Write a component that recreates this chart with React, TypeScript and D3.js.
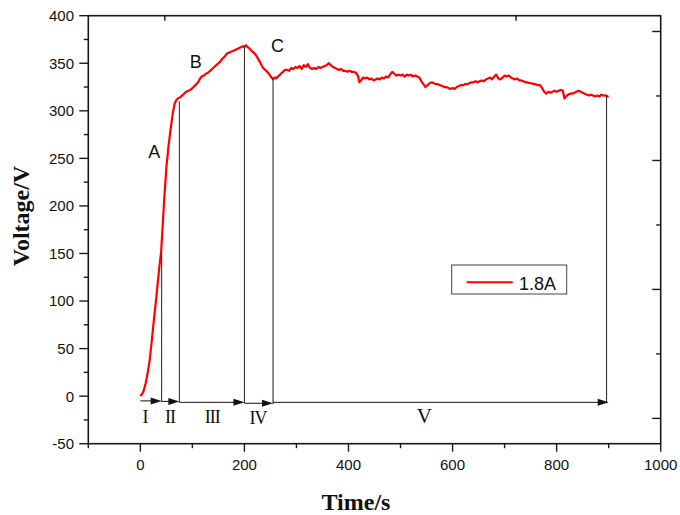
import React from "react";
import * as d3 from "d3";

const times = [0,3,6,10,14,18,22,26,30,34,37,40,43,46,50,54,58,62,66,69,72,76,80,84,88,92,96,100,104,108,112,115,118,122,126,130,134,138,142,146,150,154,158,162,166,170,174,178,182,186,190,194,197,200,203,206,209,212,216,220,224,228,232,236,240,244,248,252,255,258,261,264,267,270,274,278,282,286,290,294,298,302,306,310,314,318,322,326,330,334,338,342,346,350,354,358,362,366,370,374,378,382,386,390,394,398,402,406,410,414,418,421,424,428,432,436,440,444,448,452,456,460,464,468,472,476,480,484,488,492,496,500,504,508,512,516,520,524,528,532,536,540,544,548,552,556,560,564,568,572,576,580,584,588,592,596,600,604,608,612,616,620,624,628,632,636,640,644,648,652,656,660,664,668,672,676,680,684,688,692,696,700,704,708,712,716,720,724,728,732,736,740,744,748,752,756,760,764,768,772,776,780,784,788,792,796,800,804,808,812,815,818,822,826,830,834,838,842,846,850,854,858,862,866,870,874,878,882,886,890,894,898,900];
const volts = [0,2,5,13,24,38,58,80,100,122,138,152,180,208,240,262,280,296,308,311,313,314,316,318,320,321,322,324,326,328,331,334,336,337,339,340,342,344,346,348,350,352,355,357,360,361,362,363,364,365,366,367,368,367,369,367,366,364,362,360,357,353,349,345,343,341,338,335,333,335,334,336,337,339,341,343,343,342,345,344,346,345,347,344,348,346,349,345,344,345,344,346,345,346,347,348,350,348,346,345,344,343,344,342,342,341,342,341,341,340,337,330,332,335,334,335,333,334,332,333,334,333,335,334,336,335,338,341,339,337,338,337,338,336,338,337,338,336,337,336,335,331,328,325,327,329,330,329,328,328,327,326,325,325,324,323,324,323,325,326,327,327,328,328,329,330,330,331,330,331,332,331,333,334,335,333,336,338,334,333,335,337,336,337,335,334,333,334,332,332,331,330,330,329,329,328,328,327,327,324,320,318,320,319,320,321,320,321,322,321,313,315,317,318,318,319,320,321,320,319,318,317,316,317,316,315,316,315,317,316,316,315,315];

const xMajorTicks = [0, 200, 400, 600, 800, 1000];
const xMinorTicks = [-100, 100, 300, 500, 700, 900];
const yMajorTicks = [-50, 0, 50, 100, 150, 200, 250, 300, 350, 400];
const yMinorTicks = [-25, 25, 75, 125, 175, 225, 275, 325, 375];
const topTicks = [47, 722];
const rightMajorTicks = [383.4, 247.8, 112.2, -23.4];
const rightMinorTicks = [315.6, 180, 44.4];

// stage boundaries: time, voltage at top of marker line
const markerTimes = [41, 75, 200, 255, 896];
const markerTops = [150, 310, 368, 334, 317];
const stageStarts = [0, 41, 75, 200, 255];
const stageEnds = [41, 75, 200, 255, 900];
const stageLevels = [-5, -5.5, -6.5, -7.5, -6.5];
const stageLabels = ["I", "II", "III", "IV", "V"];
const stageLabelTimes = [9, 57, 138, 226, 545];

const pointLabels = ["A", "B", "C"];
const pointLabelTimes = [15, 95, 251];
const pointLabelVolts = [250, 345, 362];

const seriesName = "1.8A";

export default function App() {
  const W = 680, H = 515;
  const x = d3.scaleLinear().domain([-100, 1000]).range([88.3, 660.7]);
  const y = d3.scaleLinear().domain([-50, 400]).range([443.7, 15.7]);
  const data = times.map((t, i) => [t, volts[i]] as [number, number]);
  const line = d3.line<[number, number]>().x(d => x(d[0])).y(d => y(d[1]));
  const x0 = x.range()[0], x1 = x.range()[1];
  const y0 = y.range()[0], y1 = y.range()[1];
  const sans = "'Liberation Sans', Arial, sans-serif";
  const serif = "'Liberation Serif', 'Times New Roman', serif";
  const axisColor = "#1a1a1a";

  return (
    <svg width={W} height={H} style={{ position: "absolute", left: 0, top: 0, background: "#fff" }}>
      {/* series */}
      <path d={line(data) || ""} fill="none" stroke="#ff0000" strokeWidth={2.2} strokeLinejoin="round" />

      {/* marker lines */}
      {markerTimes.map((t, i) => (
        <line key={"m" + i} x1={x(t)} x2={x(t)} y1={y(markerTops[i])} y2={y(stageLevels[Math.min(i, 4)]) + 1}
          stroke="#222" strokeWidth={1} />
      ))}

      {/* stage arrows */}
      {stageStarts.map((s, i) => {
        const xs = x(s), xe = x(stageEnds[i]), yy = y(stageLevels[i]);
        const hl = 11, hw = 3.5;
        return (
          <g key={"a" + i}>
            <line x1={xs} x2={xe - hl + 1} y1={yy} y2={yy} stroke="#111" strokeWidth={1} />
            <polygon points={`${xe},${yy} ${xe - hl},${yy - hw} ${xe - hl},${yy + hw}`} fill="#111" />
          </g>
        );
      })}
      {stageLabels.map((l, i) => (
        <text key={"sl" + i} x={x(stageLabelTimes[i])} y={i === 3 ? 424 : 423}
          textAnchor="middle" fontFamily={serif} fontSize={i === 4 ? 21 : 18} letterSpacing={-1}
          fill="#111">{l}</text>
      ))}

      {/* point labels */}
      {pointLabels.map((l, i) => (
        <text key={"pl" + i} x={x(pointLabelTimes[i])} y={y(pointLabelVolts[i])}
          fontFamily={sans} fontSize={18} fill="#111">{l}</text>
      ))}

      {/* frame */}
      <rect x={x0} y={y1} width={x1 - x0} height={y0 - y1} fill="none" stroke={axisColor} strokeWidth={1.6} />

      {/* bottom axis */}
      {xMajorTicks.map(t => (
        <g key={"xt" + t}>
          <line x1={x(t)} x2={x(t)} y1={y0} y2={y0 + 8} stroke={axisColor} strokeWidth={1.4} />
          <text x={x(t)} y={470} textAnchor="middle" fontFamily={sans} fontSize={15} fill="#111">{t}</text>
        </g>
      ))}
      {xMinorTicks.map(t => (
        <line key={"xm" + t} x1={x(t)} x2={x(t)} y1={y0} y2={y0 + 4.5} stroke={axisColor} strokeWidth={1.4} />
      ))}

      {/* left axis */}
      {yMajorTicks.map(t => (
        <g key={"yt" + t}>
          <line x1={x0 - 9} x2={x0} y1={y(t)} y2={y(t)} stroke={axisColor} strokeWidth={1.4} />
          <text x={74} y={y(t)} dy="0.36em" textAnchor="end" fontFamily={sans} fontSize={15} fill="#111">{t}</text>
        </g>
      ))}
      {yMinorTicks.map(t => (
        <line key={"ym" + t} x1={x0 - 4.5} x2={x0} y1={y(t)} y2={y(t)} stroke={axisColor} strokeWidth={1.4} />
      ))}

      {/* top axis */}
      {topTicks.map(t => (
        <line key={"tt" + t} x1={x(t)} x2={x(t)} y1={y1} y2={y1 + 5} stroke={axisColor} strokeWidth={1.4} />
      ))}

      {/* right axis */}
      {rightMajorTicks.map(t => (
        <line key={"rt" + t} x1={x1 - 8.5} x2={x1} y1={y(t)} y2={y(t)} stroke={axisColor} strokeWidth={1.4} />
      ))}
      {rightMinorTicks.map(t => (
        <line key={"rm" + t} x1={x1 - 4.5} x2={x1} y1={y(t)} y2={y(t)} stroke={axisColor} strokeWidth={1.4} />
      ))}

      {/* legend */}
      <rect x={451.7} y={265} width={115} height={29} fill="#fff" stroke="#444" strokeWidth={1} />
      <line x1={466.7} x2={512.7} y1={282.3} y2={282.3} stroke="#ff0000" strokeWidth={2} />
      <text x={519} y={289.5} fontFamily={sans} fontSize={18} fill="#111">{seriesName}</text>

      {/* axis titles */}
      <text x={356} y={510} textAnchor="middle" fontFamily={serif} fontWeight="bold" fontSize={24} fill="#111">Time/s</text>
      <text transform="translate(29,216) rotate(-90)" textAnchor="middle" fontFamily={serif} fontWeight="bold" fontSize={24} fill="#111">Voltage/V</text>
    </svg>
  );
}
